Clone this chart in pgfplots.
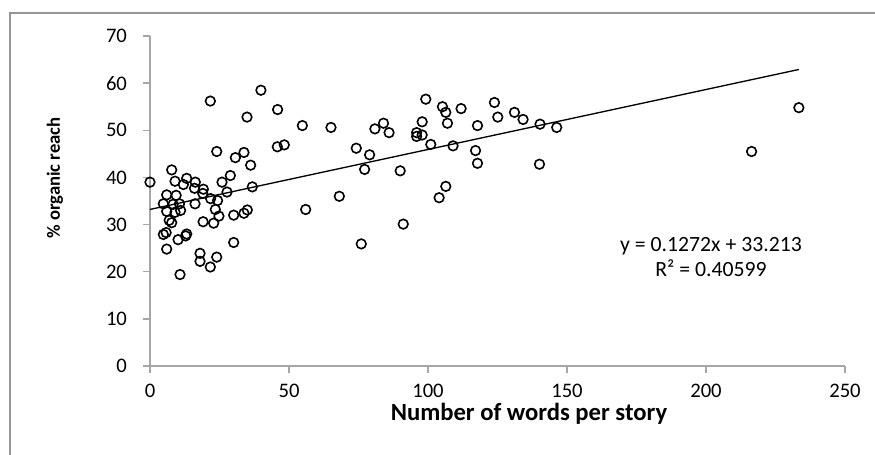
\documentclass[border=0pt]{standalone}
\usepackage{fontspec}
\setmainfont{Carlito}
\usepackage{pgfplots}
\pgfplotsset{compat=1.18}
\definecolor{axgray}{RGB}{166,166,166}
\definecolor{bordergray}{RGB}{150,150,150}
\begin{document}
\begin{tikzpicture}
\useasboundingbox (0,0) rectangle (656.25pt,340.5pt);
\draw[bordergray, line width=0.8pt] (7.5pt,-20pt) -- (7.5pt,330.75pt) -- (680pt,330.75pt);
\begin{axis}[
  at={(112.5pt,66pt)}, anchor=south west,
  scale only axis, width=521.25pt, height=247.5pt,
  xmin=0, xmax=250, ymin=0, ymax=70,
  xtick={0,50,...,250}, ytick={0,10,...,70},
  axis x line*=bottom, axis y line*=left,
  axis line style={axgray, line width=1.2pt, -},
  tick align=outside, major tick length=5.25pt,
  tick style={axgray, line width=1pt},
  clip=false,
  /pgf/number format/assume math mode=true,
  tick label style={font=\fontsize{15.5}{18}\selectfont},
  xticklabel style={yshift=-5pt},
  yticklabel style={xshift=-8.5pt},
  xlabel={Number of words per story},
  ylabel={\% organic reach},
  xlabel style={font=\fontsize{18.5}{22}\selectfont\bfseries, at={(axis description cs:0.5453,-0.1450)}, anchor=center},
  ylabel style={font=\fontsize{14}{17}\selectfont\bfseries, at={(axis description cs:-0.1367,0.5697)}, anchor=center},
]
\addplot[only marks, mark=o, mark size=3.6pt, mark options={line width=1.2pt, black}] table {
x y
0 39.0
21.7 56.2
39.9 58.5
45.9 54.4
34.9 52.8
54.8 51.0
65.1 50.6
80.9 50.3
24.0 45.5
45.8 46.5
48.3 46.9
74.2 46.2
79.0 44.8
77.2 41.7
30.7 44.2
33.8 45.3
36.2 42.6
7.8 41.6
9.0 39.2
12.0 38.5
13.2 39.8
16.3 39.0
19.2 37.5
16.0 37.7
25.9 39.0
28.9 40.4
36.8 38.0
19.0 36.6
27.7 36.9
68.1 36.0
6.0 36.3
9.4 36.2
21.8 35.5
24.3 35.1
4.8 34.4
8.3 34.3
10.6 34.4
16.2 34.4
6.0 32.8
9.0 32.6
11.0 33.0
23.5 33.2
35.0 33.1
33.8 32.4
56.0 33.2
24.8 31.8
30.1 32.0
6.9 30.9
7.8 30.4
19.1 30.6
22.9 30.3
4.8 27.9
5.8 28.3
13.2 28.0
12.8 27.6
10.1 26.8
30.1 26.2
6.0 24.8
18.0 23.9
18.0 22.2
24.0 23.1
21.7 21.0
10.8 19.4
76.0 25.9
99.2 56.6
105.2 55.0
106.4 53.8
111.9 54.6
123.9 55.9
125.1 52.8
131.1 53.8
134.2 52.3
140.3 51.3
146.3 50.6
84.0 51.5
86.0 49.5
97.9 51.8
95.9 49.5
95.9 48.7
97.9 49.0
107.0 51.5
117.8 51.0
101.0 47.0
109.0 46.7
117.1 45.7
117.8 43.0
140.1 42.8
90.0 41.4
106.4 38.1
104.0 35.7
91.1 30.1
216.4 45.5
233.4 54.8
};
\addplot[black, line width=1pt] coordinates {(0,33.213) (233.4,62.90)};
\node[align=center, font=\fontsize{16.3}{18.75}\selectfont] at (axis cs:201.8,23.05) {y = 0.1272x + 33.213\\R² = 0.40599};
\end{axis}
\end{tikzpicture}
\end{document}
